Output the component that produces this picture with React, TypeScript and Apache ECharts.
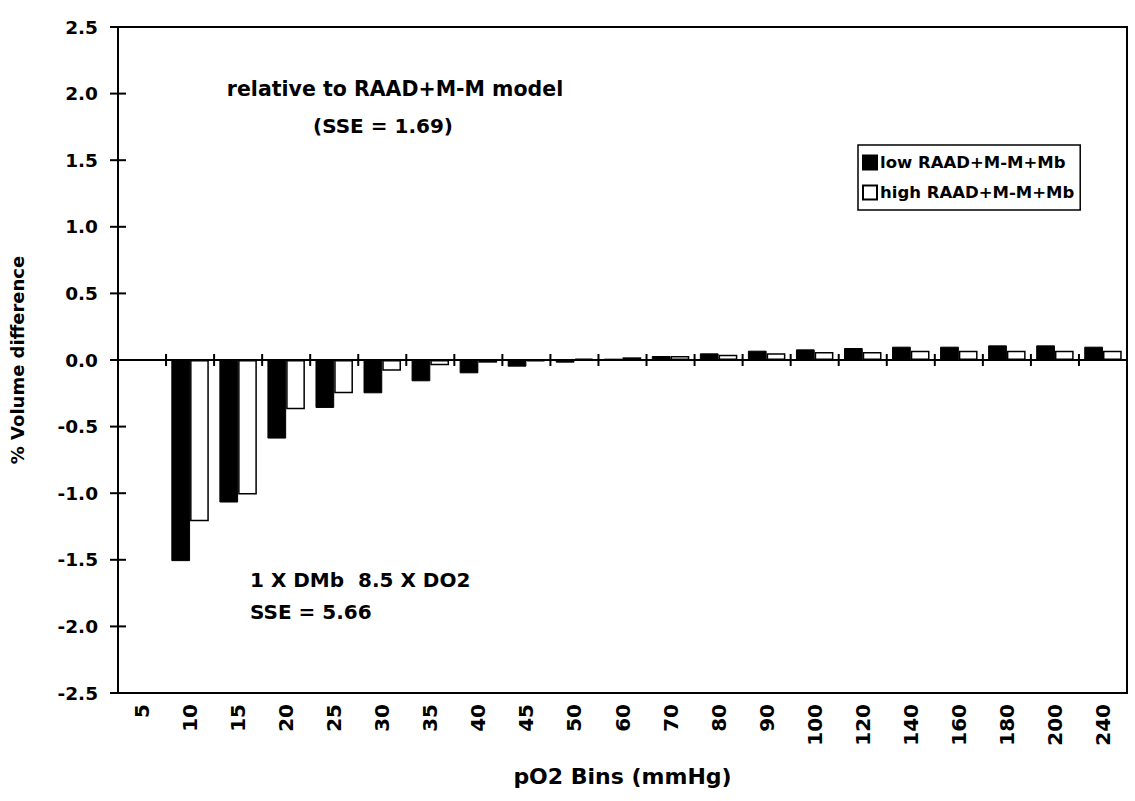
import React, { useEffect, useRef } from "react";
import * as echarts from "echarts";

const categories = ["5", "10", "15", "20", "25", "30", "35", "40", "45", "50", "60", "70", "80", "90", "100", "120", "140", "160", "180", "200", "240"];
const lowValues = [0, -1.51, -1.07, -0.59, -0.36, -0.25, -0.16, -0.10, -0.05, -0.02, 0.01, 0.03, 0.05, 0.07, 0.08, 0.09, 0.10, 0.10, 0.11, 0.11, 0.10];
const highValues = [0, -1.21, -1.01, -0.37, -0.25, -0.08, -0.04, -0.02, -0.01, 0.01, 0.02, 0.03, 0.04, 0.05, 0.06, 0.06, 0.07, 0.07, 0.07, 0.07, 0.07];
const seriesNames = ["low RAAD+M-M+Mb", "high RAAD+M-M+Mb"];
const yTicks = [-2.5, -2.0, -1.5, -1.0, -0.5, 0.0, 0.5, 1.0, 1.5, 2.0, 2.5];
const yMin = -2.5;
const yMax = 2.5;
const yStep = 0.5;
const titleX = "pO2 Bins (mmHg)";
const titleY = "% Volume difference";
const noteTop = ["relative to RAAD+M-M model", "(SSE = 1.69)"];
const noteBottom = ["1 X DMb  8.5 X DO2", "SSE = 5.66"];

const FONT = "DejaVu Sans";

export default function App() {
  const ref = useRef<HTMLDivElement>(null);
  useEffect(() => {
    if (!ref.current) return;
    const chart = echarts.init(ref.current, null, { renderer: "svg" });
    const grid = { left: 118, top: 27, right: 8, bottom: 108 };
    const lineStyle = { color: "#000", width: 2 };
    const tickStyle = { stroke: "#000", lineWidth: 2 };
    chart.setOption({
      animation: false,
      backgroundColor: "#fff",
      textStyle: { fontFamily: FONT, color: "#000" },
      grid: { ...grid, show: true, borderColor: "#000", borderWidth: 2, backgroundColor: "transparent" },
      legend: {
        orient: "vertical",
        left: 858,
        top: 145,
        padding: [9, 6, 9, 4],
        itemGap: 13,
        itemWidth: 14,
        itemHeight: 14,
        icon: "rect",
        borderColor: "#000",
        borderWidth: 1.5,
        backgroundColor: "#fff",
        textStyle: { fontFamily: FONT, fontSize: 16.5, fontWeight: "bold", color: "#000", padding: [0, 0, 0, -2] },
        data: seriesNames,
      },
      xAxis: [
        {
          type: "category",
          data: categories,
          position: "bottom",
          axisLine: { show: true, onZero: true, lineStyle },
          axisTick: { show: false },
          axisLabel: { show: false },
          splitLine: { show: false },
        },
        {
          type: "category",
          data: categories,
          position: "bottom",
          axisLine: { show: false, onZero: false },
          axisTick: { show: false },
          axisLabel: { show: true, interval: 0, rotate: 90, margin: 11, fontFamily: FONT, fontSize: 20, fontWeight: "bold", color: "#000" },
          name: titleX,
          nameLocation: "middle",
          nameGap: 72,
          nameTextStyle: { fontFamily: FONT, fontSize: 22, fontWeight: "bold", color: "#000" },
        },
      ],
      yAxis: [
        {
          type: "value",
          min: yMin,
          max: yMax,
          interval: yStep,
          position: "left",
          axisLine: { show: true, lineStyle },
          axisTick: { show: false },
          axisLabel: { margin: 20, fontFamily: FONT, fontSize: 18.5, fontWeight: "bold", color: "#000", formatter: (v: number) => v.toFixed(1) },
          splitLine: { show: false },
          name: titleY,
          nameLocation: "middle",
          nameGap: 92,
          nameTextStyle: { fontFamily: FONT, fontSize: 18, fontWeight: "bold", color: "#000" },
        },
      ],
      series: [
        {
          name: seriesNames[0],
          type: "bar",
          xAxisIndex: 0,
          yAxisIndex: 0,
          data: lowValues,
          barGap: "0%",
          barCategoryGap: "22%",
          itemStyle: { color: "#000", borderColor: "#000", borderWidth: 1 },
        },
        {
          name: seriesNames[1],
          type: "bar",
          xAxisIndex: 0,
          yAxisIndex: 0,
          data: highValues,
          barGap: "0%",
          barCategoryGap: "22%",
          itemStyle: { color: "#fff", borderColor: "#000", borderWidth: 1.5 },
        },
        {
          name: "xTicks",
          type: "custom",
          xAxisIndex: 0,
          yAxisIndex: 0,
          silent: true,
          clip: false,
          z: 10,
          encode: { x: 0, y: 1 },
          data: categories.map((c, i) => [i, 0]),
          renderItem: (params: any, api: any) => {
            const idx = api.value(0);
            const p = api.coord([idx, 0]);
            const bw = api.size([1, 0])[0];
            const xs = [p[0] - bw / 2];
            if (idx === categories.length - 1) xs.push(p[0] + bw / 2);
            return {
              type: "group",
              children: xs.map((x) => ({
                type: "line",
                shape: { x1: x, y1: p[1] - 6, x2: x, y2: p[1] + 6 },
                style: tickStyle,
              })),
            };
          },
        },
        {
          name: "yTicks",
          type: "custom",
          xAxisIndex: 0,
          yAxisIndex: 0,
          silent: true,
          clip: false,
          z: 10,
          encode: { x: 0, y: 1 },
          data: yTicks.map((v) => [0, v]),
          renderItem: (params: any, api: any) => {
            const p = api.coord([0, api.value(1)]);
            const x0 = params.coordSys.x;
            return {
              type: "line",
              shape: { x1: x0 - 8, y1: p[1], x2: x0 + 8, y2: p[1] },
              style: tickStyle,
            };
          },
        },
      ],
      graphic: [
        {
          type: "text",
          x: 395,
          y: 89,
          style: { text: noteTop[0], font: `bold 20.5px "${FONT}"`, fill: "#000", textAlign: "center", textVerticalAlign: "middle" },
        },
        {
          type: "text",
          x: 383,
          y: 126,
          style: { text: noteTop[1], font: `bold 20px "${FONT}"`, fill: "#000", textAlign: "center", textVerticalAlign: "middle" },
        },
        {
          type: "text",
          x: 250,
          y: 580,
          style: { text: noteBottom[0], font: `bold 20px "${FONT}"`, fill: "#000", textAlign: "left", textVerticalAlign: "middle" },
        },
        {
          type: "text",
          x: 250,
          y: 612,
          style: { text: noteBottom[1], font: `bold 20px "${FONT}"`, fill: "#000", textAlign: "left", textVerticalAlign: "middle" },
        },
      ],
    });
    return () => chart.dispose();
  }, []);
  return <div ref={ref} style={{ position: "fixed", left: 0, top: 0, width: 1135, height: 801, background: "#fff" }} />;
}
